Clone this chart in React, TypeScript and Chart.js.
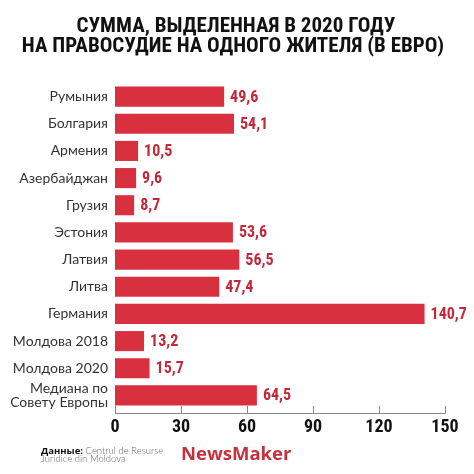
import React, { useEffect, useRef } from "react";
import { Chart, registerables } from "chart.js";

Chart.register(...registerables);

const categories: (string | string[])[] = [
  "Румыния",
  "Болгария",
  "Армения",
  "Азербайджан",
  "Грузия",
  "Эстония",
  "Латвия",
  "Литва",
  "Германия",
  "Молдова 2018",
  "Молдова 2020",
  ["Медиана по", "Совету Европы"],
];
const values: number[] = [49.6, 54.1, 10.5, 9.6, 8.7, 53.6, 56.5, 47.4, 140.7, 13.2, 15.7, 64.5];
const xTicks: number[] = [0, 30, 60, 90, 120, 150];
const titleLines: string[] = ["СУММА, ВЫДЕЛЕННАЯ В 2020 ГОДУ", "НА ПРАВОСУДИЕ НА ОДНОГО ЖИТЕЛЯ (В ЕВРО)"];

const COND = '"Roboto Condensed", "Liberation Sans Narrow", "DejaVu Sans Condensed", Roboto, sans-serif';
const BAR = "#d8303e";
const LABEL = "#c2283a";

const fmt = (v: number) => v.toFixed(1).replace(".", ",");

const decorPlugin = {
  id: "decor",
  afterDraw(chart: any) {
    const ctx = chart.ctx;
    const area = chart.chartArea;
    const xs = chart.scales.x;
    ctx.save();
    // title
    ctx.fillStyle = "#111";
    ctx.textAlign = "center";
    ctx.textBaseline = "alphabetic";
    ctx.font = `bold 21px ${COND}`;
    ctx.fillText(titleLines[0], 236, 32);
    ctx.fillText(titleLines[1], 233, 52);
    // axis line + ticks
    const axisY = area.bottom + 4;
    ctx.strokeStyle = "#888";
    ctx.lineWidth = 1;
    ctx.beginPath();
    ctx.moveTo(xs.getPixelForValue(0), axisY + 0.5);
    ctx.lineTo(xs.getPixelForValue(150), axisY + 0.5);
    ctx.stroke();
    xTicks.forEach((t) => {
      const px = Math.round(xs.getPixelForValue(t)) + 0.5;
      ctx.beginPath();
      ctx.moveTo(px, axisY - 7);
      ctx.lineTo(px, axisY + 0.5);
      ctx.stroke();
    });
    // value labels
    const meta = chart.getDatasetMeta(0);
    ctx.fillStyle = LABEL;
    ctx.textAlign = "left";
    ctx.textBaseline = "middle";
    ctx.font = `bold 16px ${COND}`;
    meta.data.forEach((el: any, i: number) => {
      ctx.fillText(fmt(values[i]), el.x + 6, el.y + 1);
    });
    // footer
    ctx.textBaseline = "alphabetic";
    ctx.fillStyle = "#111";
    ctx.font = 'bold 9.5px "Open Sans", Lato, sans-serif';
    const lbl = "Данные:";
    ctx.fillText(lbl, 41, 454);
    const w = ctx.measureText(lbl).width;
    ctx.fillStyle = "#666";
    ctx.font = '300 9.5px Lato, "Open Sans", sans-serif';
    ctx.fillText(" Centrul de Resurse", 41 + w, 454);
    ctx.fillText("Juridice din Moldova", 41, 462);
    ctx.fillStyle = "#c7303e";
    ctx.font = 'bold 18.5px "Open Sans", Lato, sans-serif';
    ctx.fillText("NewsMaker", 181, 460);
    ctx.restore();
  },
};

export default function App() {
  const ref = useRef<HTMLCanvasElement | null>(null);
  useEffect(() => {
    document.body.style.margin = "0";
    const chart = new Chart(ref.current as HTMLCanvasElement, {
      type: "bar",
      data: {
        labels: categories,
        datasets: [
          {
            data: values,
            backgroundColor: BAR,
            barPercentage: 0.74,
            categoryPercentage: 1,
          },
        ],
      },
      options: {
        indexAxis: "y",
        animation: false,
        responsive: false,
        maintainAspectRatio: false,
        layout: { padding: { left: 0, right: 29, top: 83, bottom: 0 } },
        plugins: { legend: { display: false }, tooltip: { enabled: false }, title: { display: false } },
        scales: {
          x: {
            min: 0,
            max: 150,
            afterBuildTicks: (s: any) => {
              s.ticks = xTicks.map((v) => ({ value: v }));
            },
            afterFit: (s: any) => {
              s.height = 65;
            },
            grid: { display: false, drawTicks: false },
            border: { display: false },
            ticks: {
              padding: 8,
              color: "#111",
              font: { family: COND, size: 18, weight: "bold" },
            },
          },
          y: {
            afterFit: (s: any) => {
              s.width = 115;
            },
            grid: { display: false, drawTicks: false },
            border: { display: false },
            ticks: {
              autoSkip: false,
              padding: 7,
              color: "#333",
              font: { family: "Lato, 'Open Sans', sans-serif", size: 14, lineHeight: 1.05 },
            },
          },
        },
      },
      plugins: [decorPlugin],
    });
    return () => chart.destroy();
  }, []);
  return (
    <div style={{ position: "absolute", left: 0, top: 0, width: 474, height: 474, background: "#fff" }}>
      <canvas ref={ref} width={474} height={474} style={{ width: 474, height: 474 }} />
    </div>
  );
}
